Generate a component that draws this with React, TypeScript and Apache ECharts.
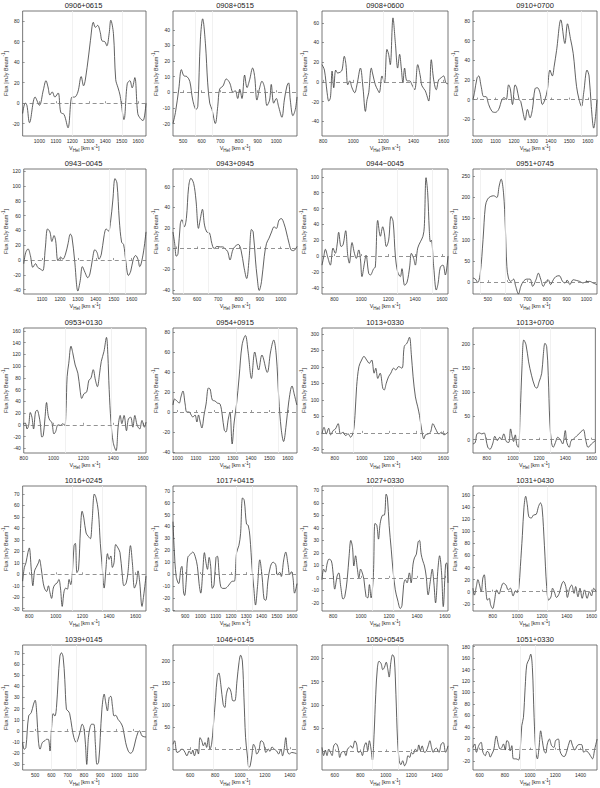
import React, { useEffect, useRef } from "react";
import * as echarts from "echarts";

type P = [number, number];

const titles = [
  "0906+0615", "0908+0515", "0908+0600", "0910+0700",
  "0943\u22120045", "0943+0945", "0944\u22120045", "0951+0745",
  "0953+0130", "0954+0915", "1013+0330", "1013+0700",
  "1016+0245", "1017+0415", "1027+0330", "1031+0430",
  "1039+0145", "1046+0145", "1050+0545", "1051+0330",
];

const s0906p0615: P[] = [[898,-10],[914,0],[924,-2],[940,-19],[974,6],[1000,-2],[1024,13],[1040,22],[1052,16],[1064,8],[1078,11],[1094,6],[1114,10],[1130,-9],[1150,-11],[1174,-24],[1198,6],[1214,6],[1234,11],[1254,26],[1268,17],[1290,35],[1310,61],[1328,79],[1340,74],[1354,76],[1370,69],[1380,61],[1398,60],[1410,56],[1424,68],[1434,81],[1450,68],[1464,23],[1478,15],[1490,8],[1514,-16],[1534,19],[1550,22],[1564,15],[1580,25],[1598,-10],[1614,-15],[1630,-17],[1648,0]];
const s0908p0515: P[] = [[446,-20],[459,-13],[477,2],[491,14.5],[504,10.6],[521,10],[536,7],[552,-5],[570,-11],[579,-9],[593,34],[605,47],[620,31],[632,6],[643,-7],[655,-11],[673,-20],[686,-9],[696,2],[714,4],[732,8.5],[750,6],[768,0],[780,1],[793,-4],[804,2],[816,-4],[830,11],[843,3],[857,8],[873,15.5],[884,10],[896,-5],[911,3],[923,7],[937,3],[950,-8.5],[964,-5],[973,5],[986,-7],[1000,-4],[1012,-9],[1030,-16],[1043,-5],[1057,4],[1066,6],[1075,-5],[1089,-15],[1102,-11],[1111,-3]];
const s0908p0600: P[] = [[793,17.5],[809,12],[827,-11],[838,-19.5],[849,-16],[860,11],[871,-6],[884,12],[897,9],[915,10],[926,12],[941,26],[952,17.5],[964,-3],[977,1],[992,-6],[1010,-11],[1025,-3],[1048,14],[1065,-6],[1081,-30],[1092,-18],[1103,-11],[1120,14],[1131,7],[1147,-3],[1162,-8],[1173,-11],[1191,6],[1207,-1],[1224,33],[1235,28],[1246,17.5],[1264,65],[1280,39],[1295,14],[1308,28],[1319,14],[1330,-1],[1341,14],[1357,1],[1375,1],[1390,-3],[1408,-8],[1428,17.5],[1445,6],[1456,-4],[1478,-9],[1501,-19.5],[1518,22.5],[1534,2],[1551,-8],[1567,2],[1582,4],[1600,6],[1615,-1],[1629,-2]];
const s0910p0700: P[] = [[978,0],[986,7],[1000,22],[1009,24],[1022,13.5],[1036,3],[1048,3],[1063,-5],[1081,-12],[1099,-13],[1117,-10],[1135,0],[1147,2],[1158,0],[1171,15],[1180,11],[1192,-5],[1206,15],[1215,12],[1228,0],[1237,-2],[1251,-15],[1260,-21],[1273,-10],[1287,-18.5],[1300,-10],[1314,11],[1327,12],[1341,7],[1354,-5],[1368,0],[1381,10],[1395,30],[1408,24],[1418,34],[1431,50],[1454,81],[1476,57],[1490,77],[1506,62],[1521,47],[1539,13.5],[1553,0],[1566,-7],[1578,7],[1596,30],[1607,24],[1619,-7],[1632,-29],[1650,0]];
const s0943m0045: P[] = [[998,-5],[1009,10],[1022,15],[1035,6],[1049,-10],[1064,-5],[1076,-10],[1089,-12],[1104,-14.5],[1118,15],[1131,42],[1144,38],[1155,25],[1167,33],[1176,26],[1189,-1],[1204,4],[1216,1],[1231,8],[1245,22],[1258,35],[1267,31],[1282,-1],[1300,-42],[1313,-28],[1325,-9],[1340,-17],[1355,-24],[1367,-19],[1380,-1],[1395,14],[1407,10],[1418,1],[1431,8],[1445,31],[1458,42],[1471,39],[1482,51],[1495,81],[1507,110],[1518,104],[1531,54],[1544,24],[1555,21],[1567,-1],[1582,-21],[1595,-15],[1609,1],[1622,6],[1635,1],[1645,-9],[1664,8],[1680,38]];
const s0943p0945: P[] = [[484,16],[492,5],[500,-7.5],[508,-5],[519,24],[527,28],[538,21],[548,29],[559,60],[570,68],[583,63],[594,47],[606,19.5],[614,27.6],[625,38],[635,22.7],[646,16],[659,15],[670,5],[681,0],[694,2],[710,1.6],[722,1.6],[733,0],[746,-3],[757,-11],[770,-1.6],[781,2],[797,4],[810,-1.6],[824,-18],[837,-29],[848,-11],[860,18.5],[868,16],[879,-11],[887,-27.6],[897,-40.6],[908,-32],[921,-8],[932,5],[944,10],[956,16],[968,21],[979,19.5],[992,27.6],[1003,29],[1016,24],[1027,16],[1040,5],[1051,-1.6],[1062,-2],[1078,2]];
const s0944m0045: P[] = [[708,-11.5],[721,-1],[733,8.5],[750,-1],[770,-11.5],[790,10],[807,3.4],[820,14],[832,30],[850,12],[864,14],[884,32],[899,1],[911,-9],[931,17],[949,3.4],[963,-3],[981,7.7],[993,-3],[1005,-26],[1023,-9],[1035,1],[1055,-22],[1067,-24],[1092,-16],[1104,-14],[1122,45],[1142,25],[1159,37],[1171,29],[1186,12],[1203,20],[1221,50],[1236,44],[1253,0],[1270,-20],[1290,-26],[1302,-16],[1322,-37],[1340,-33],[1359,-14],[1372,3.4],[1389,-3],[1401,-11.5],[1419,10],[1439,18],[1458,25],[1468,37],[1481,99],[1493,80],[1505,33],[1513,18],[1520,20],[1538,-14],[1557,-43],[1570,-35],[1587,-14],[1607,-11.5],[1624,-24],[1644,0]];
const s0951p0745: P[] = [[424,9.5],[436,7],[448,-1],[461,21],[475,100],[487,179],[498,195],[512,201],[529,203],[545,199],[557,226],[567,242],[579,210],[588,132],[596,37],[604,9.5],[616,1.6],[630,7],[641,-10],[655,-28],[667,-10],[680,1.6],[697,7],[714,7],[727,-10],[744,5.5],[756,21],[768,7],[781,-10],[795,1.6],[806,5.5],[818,-6],[832,5.5],[845,13],[862,15],[879,1.6],[891,-2],[904,4],[916,-6],[933,5.5],[949,4],[966,1.6],[983,-2],[1000,1],[1017,1.6],[1034,-2],[1054,-6]];
const s0953p0130: P[] = [[800,2],[811,3],[822,-7],[833,-1],[844,21],[855,13],[866,-7],[879,22],[890,25],[901,17],[911,2],[922,-21],[931,-18],[942,10],[953,38],[964,16],[975,7.5],[988,4.6],[1003,-15.5],[1014,-11.5],[1030,0],[1047,-1],[1062,2],[1075,-1],[1084,27.6],[1091,82],[1102,105],[1117,134],[1130,121],[1145,102],[1163,88],[1178,59],[1189,45],[1204,53],[1222,56],[1237,76],[1250,79],[1266,94],[1281,76],[1294,65],[1309,88],[1320,108],[1338,125],[1355,149],[1364,120],[1373,60],[1385,5],[1400,-30],[1419,-44],[1434,-1],[1447,16],[1458,2],[1473,16],[1489,-10],[1502,10],[1517,13],[1532,-4],[1545,16],[1561,-1],[1578,-7],[1593,7.5],[1609,-4],[1620,4.6]];
const s0954p0915: P[] = [[975,7],[984,13],[996,11],[1009,9],[1018,15],[1029,21],[1041,8],[1050,0],[1063,0],[1074,-3],[1083,-5],[1095,-3],[1105,-10],[1114,-3],[1123,-10],[1132,-16],[1144,-3],[1155,8],[1168,24],[1177,23],[1189,12],[1204,11],[1216,9],[1231,8],[1243,-3],[1254,-18],[1263,-20],[1276,-7],[1285,0],[1297,-32],[1308,-10],[1321,8],[1335,35],[1351,67],[1369,76.5],[1384,60],[1402,33.5],[1420,60],[1441,42],[1459,57],[1488,39.6],[1506,60],[1523,72],[1537,57],[1551,13],[1564,-17],[1577,-29.5],[1591,-13],[1605,10],[1623,26],[1636,17],[1649,7]];
const s1013p0330: P[] = [[706,-3],[721,17],[738,-3],[755,14],[770,-6],[788,7],[805,12],[825,28],[842,-3],[862,2],[879,-8],[899,-3],[916,-13],[936,2],[949,53],[961,140],[978,201],[998,221],[1015,232],[1035,221],[1055,211],[1072,221],[1090,181],[1102,196],[1117,165],[1134,181],[1154,135],[1164,130],[1179,150],[1196,170],[1213,181],[1233,196],[1250,191],[1270,201],[1295,196],[1312,262],[1332,272],[1350,290],[1364,237],[1377,170],[1394,109],[1411,79],[1424,53],[1439,12],[1456,-18],[1468,-6],[1488,-3],[1505,2],[1523,28],[1543,12],[1567,-3],[1587,2],[1604,-6],[1634,2]];
const s1013p0700: P[] = [[695,-9],[712,-6],[725,12],[745,14],[762,12],[780,14],[795,0],[808,-16],[825,-20],[845,-9],[862,7],[880,-2],[900,5],[912,0],[930,12],[950,-4],[968,-6],[982,22.5],[995,5],[1005,-4],[1018,10],[1030,-11],[1042,-16],[1055,51],[1070,156],[1083,209],[1100,199],[1120,163],[1142,135],[1168,111],[1182,108],[1200,121],[1220,139],[1232,177],[1245,202],[1258,195],[1270,135],[1282,37],[1295,-6],[1308,-16],[1325,-6],[1342,5],[1362,0],[1380,-9],[1400,19],[1412,-6],[1430,-16],[1445,-2],[1462,1],[1488,8],[1512,14],[1538,21],[1555,1],[1575,-16],[1600,-9],[1630,-2]];
const s1016p0245: P[] = [[750,-6],[763,6],[775,10],[790,19],[800,23],[815,4.5],[827,-10],[840,3],[852,6],[869,10],[877,13],[889,6],[901,-4.5],[914,-12],[931,-15],[944,-10],[956,-16],[968,-21],[981,-12],[993,-9],[1010,-7.5],[1023,-4.5],[1035,-12],[1048,-28],[1062,-15],[1075,-12],[1087,-13],[1100,-4.5],[1112,-9],[1124,0],[1137,25],[1147,27],[1159,1.5],[1171,4.5],[1186,40],[1198,55],[1211,49],[1228,36],[1245,33],[1260,31],[1273,46],[1290,70],[1302,67],[1320,55],[1335,27],[1347,10],[1364,-12],[1377,4.5],[1389,18],[1401,13],[1414,16],[1426,6],[1438,10],[1451,26],[1468,23],[1483,19],[1500,0],[1513,-10],[1530,-7.5],[1543,1.5],[1562,25],[1577,9],[1592,-12],[1607,-7.5],[1619,3],[1632,-7.5],[1649,-28],[1661,-19],[1679,-1.5]];
const s1017p0415: P[] = [[820,44],[828,21],[841,-2],[857,-8],[872,5],[878,6.5],[889,-15],[896,-18],[907,-5],[917,14],[933,16.5],[950,18.5],[965,15],[980,6.5],[991,-8],[1002,-16],[1015,2],[1026,18],[1037,9],[1046,4],[1057,14],[1067,6.5],[1078,-12],[1089,-9],[1102,14],[1111,15],[1122,1],[1133,-10.5],[1146,-12],[1161,-12],[1178,-10.5],[1193,-8],[1209,-6],[1222,-6],[1237,18],[1252,24],[1263,34],[1276,64],[1287,62],[1302,42],[1313,41],[1324,32],[1339,4],[1350,-12],[1361,-26],[1374,-10.5],[1389,12],[1404,-2],[1417,-21],[1428,-22],[1443,-5],[1459,6.5],[1476,10],[1493,8],[1504,-0.5],[1520,1.5],[1530,-2],[1546,12],[1559,18.5],[1574,8],[1585,-0.5],[1596,2],[1607,-3.5],[1617,-16],[1633,-8]];
const s1027p0330: P[] = [[721,-1.4],[733,7],[745,4.6],[759,12],[771,15],[788,13.6],[800,4],[812,-9],[829,1.4],[841,4],[855,-7],[872,-17],[884,-15],[901,-1.4],[915,17.7],[927,30],[939,24.5],[949,9.5],[961,17.7],[973,8],[985,0],[997,7],[1009,4],[1021,-1.4],[1036,-15],[1048,-16],[1060,-5.4],[1072,-16],[1088,1.4],[1100,43.6],[1113,42],[1125,31],[1137,43.6],[1153,50],[1168,50.4],[1180,67],[1189,64],[1201,42],[1216,23],[1228,7],[1245,-9.5],[1262,-17.7],[1281,-24.5],[1293,-22],[1305,-5.4],[1317,-1.4],[1329,-4],[1346,4],[1358,-4],[1372,11],[1382,16],[1396,19],[1408,28.6],[1418,30],[1430,19],[1442,13.6],[1454,9.5],[1466,1.4],[1480,-13.6],[1497,-1.4],[1509,7],[1521,-4],[1533,-20],[1550,7],[1562,17.7],[1576,4],[1588,-23],[1605,11],[1613,12],[1622,-4]];
const s1031p0430: P[] = [[640,5.7],[651,-5.7],[667,8.5],[680,20],[693,11],[707,0],[720,22.6],[731,28],[744,3],[757,-14],[771,-11],[784,-22.6],[800,-28],[813,-17],[832,3],[851,-4],[867,5.7],[885,14],[907,11],[925,3],[944,5.7],[965,-7],[984,1.7],[997,-1.7],[1011,5.7],[1024,42],[1040,93],[1053,139],[1067,158],[1080,144],[1093,124],[1112,122],[1131,127],[1152,128],[1171,141],[1187,147],[1200,139],[1219,76],[1237,8.5],[1253,-14],[1272,-8.5],[1285,5.7],[1299,0],[1317,-9.6],[1339,-2.8],[1357,11],[1373,17],[1392,8.5],[1405,-9.6],[1424,5.7],[1440,11],[1459,-2.8],[1472,8.5],[1491,-8.5],[1507,5.7],[1525,-11],[1544,3],[1565,-11],[1584,0],[1600,-7],[1619,5.7],[1637,0]];
const s1039p0145: P[] = [[423,-10.4],[433,-16.4],[443,-15],[460,13.4],[476,16.4],[490,24],[500,27.5],[510,15],[520,-9],[530,-16.4],[544,-10.4],[557,-9],[571,-7.5],[581,-7.5],[591,-18],[601,3],[611,15.5],[621,13.4],[631,21],[641,45],[652,67],[662,70],[672,66],[682,46],[692,19.4],[702,18],[712,15.5],[726,3],[738,-6],[753,-10.4],[763,-7.5],[777,0],[789,6],[799,3],[809,-12],[817,-30],[827,-6],[837,3],[847,6],[860,6],[870,-12],[880,-30],[890,-28],[900,-6],[910,19.4],[924,33],[934,25],[944,18],[955,30],[965,31],[975,22],[985,13.4],[995,14],[1009,10.4],[1025,7.5],[1039,3],[1056,-10.4],[1072,-18],[1086,-20],[1100,-18],[1116,-9],[1131,-1.5],[1142,0],[1157,-4.5],[1181,-5.4]];
const s1046p0145: P[] = [[462,11],[475,19],[494,-7.5],[513,-5],[534,0],[552,-4],[574,-15],[592,-4],[608,-11],[621,-2],[634,-15],[653,0],[666,-11],[679,26],[693,19],[706,7.5],[719,15],[732,4],[746,26],[759,0],[772,11],[785,49],[804,116],[817,161],[830,172],[846,146],[865,101],[878,94],[891,124],[910,139],[926,131],[944,109],[958,109],[976,154],[992,195],[1005,212],[1019,199],[1032,116],[1045,26],[1058,-11],[1072,-41],[1082,-37.5],[1095,-15],[1109,11],[1122,4],[1135,-11],[1151,-4],[1170,19],[1188,15],[1209,-7.5],[1228,0],[1241,-5],[1257,5],[1275,0],[1294,-4],[1310,-11],[1328,0],[1342,-15],[1355,0],[1368,26],[1381,-4],[1395,-11],[1416,-7.5],[1453,-10]];
const s1050p0545: P[] = [[500,8.6],[513,-9],[526,3],[539,-9],[553,5],[566,-2],[579,-9],[592,12],[608,17],[626,8.6],[639,-13],[653,-2],[671,0],[687,-9],[700,5],[713,8.6],[726,12],[739,7],[758,23],[771,16],[784,-2],[803,0],[816,-9],[832,12],[845,19],[858,1.4],[871,23],[884,5],[895,-18.5],[908,37],[921,123],[934,180],[947,194],[963,189],[976,176],[989,181],[1003,192],[1016,176],[1026,160],[1039,191],[1053,208],[1066,201],[1079,123],[1092,23],[1105,-20],[1118,-28.6],[1132,-20],[1147,-31],[1161,-23.6],[1174,-9],[1187,-13],[1200,-2],[1213,-6],[1232,5],[1245,0],[1258,14],[1271,1.4],[1284,12],[1303,-2],[1316,0],[1332,12],[1345,23],[1358,8.6],[1371,-2],[1384,5],[1397,7],[1416,-2],[1434,16],[1450,19],[1468,-2],[1487,12]];
const s1051p0330: P[] = [[547,4],[561,10],[574,-4.6],[592,7],[611,13],[626,-4.6],[645,-10.5],[658,-3],[671,-4.6],[684,-13],[697,-7.5],[711,-0.6],[732,24],[750,7],[763,1],[776,4],[789,10],[803,-0.6],[816,16],[829,13],[842,-2],[855,7],[868,-16],[889,-16],[908,-18],[921,-2],[934,42],[947,56],[961,109],[974,149],[992,158],[1005,167],[1018,144],[1032,56],[1045,-2],[1058,-16],[1071,4],[1084,33],[1097,16],[1111,-2],[1124,-6],[1137,10],[1153,18.6],[1171,7],[1189,4],[1203,16],[1224,18.6],[1237,-2],[1255,-10.5],[1271,-12],[1289,-4.6],[1303,7],[1321,17],[1337,7],[1355,-0.6],[1374,7],[1389,9],[1408,9],[1426,-4.6],[1442,-2],[1461,-4.6],[1479,-10.5],[1495,-16],[1513,1],[1532,18.6]];

const spectra: P[][] = [
  s0906p0615, s0908p0515, s0908p0600, s0910p0700,
  s0943m0045, s0943p0945, s0944m0045, s0951p0745,
  s0953p0130, s0954p0915, s1013p0330, s1013p0700,
  s1016p0245, s1017p0415, s1027p0330, s1031p0430,
  s1039p0145, s1046p0145, s1050p0545, s1051p0330,
];

// velocity axis extents [min, max]
const xRanges: P[] = [
  [898, 1648], [446, 1111], [793, 1629], [978, 1650],
  [998, 1680], [484, 1078], [708, 1644], [424, 1054],
  [800, 1620], [975, 1650], [706, 1634], [695, 1630],
  [750, 1679], [820, 1633], [721, 1622], [640, 1637],
  [423, 1181], [462, 1458], [500, 1487], [547, 1531],
];
// flux axis extents [min, max]
const yRanges: P[] = [
  [-32, 90], [-28, 52], [-55, 72], [-37, 90],
  [-46, 123], [-44, 77], [-48, 110], [-28, 266],
  [-48, 165], [-41, 84], [-61, 318], [-28, 234],
  [-32, 77], [-31, 74], [-26.5, 73.5], [-32, 175],
  [-35, 77], [-47, 235], [-40, 229], [-35.5, 183],
];

const xt100a = [1000, 1100, 1200, 1300, 1400, 1500, 1600];
const xt500 = [500, 600, 700, 800, 900, 1000];
const xt800 = [800, 1000, 1200, 1400, 1600];
const xTicks: number[][] = [
  xt100a, xt500, xt800, xt100a,
  [1100, 1200, 1300, 1400, 1500, 1600], xt500, xt800, xt500,
  xt800, xt100a, xt800, xt800,
  xt800, [900, 1000, 1100, 1200, 1300, 1400, 1500, 1600], xt800, xt800,
  [500, 600, 700, 800, 900, 1000, 1100], [600, 800, 1000, 1200, 1400], [600, 800, 1000, 1200, 1400], [600, 800, 1000, 1200, 1400],
];
const yTicks: number[][] = [
  [-20, 0, 20, 40, 60, 80], [-20, -10, 0, 10, 20, 30, 40], [-40, -20, 0, 20, 40, 60], [-20, 0, 20, 40, 60, 80],
  [-40, -20, 0, 20, 40, 60, 80, 100, 120], [-40, -20, 0, 20, 40, 60], [-40, -20, 0, 20, 40, 60, 80, 100], [0, 50, 100, 150, 200, 250],
  [-40, -20, 0, 20, 40, 60, 80, 100, 120, 140, 160], [-40, -20, 0, 20, 40, 60, 80], [-50, 0, 50, 100, 150, 200, 250, 300], [0, 50, 100, 150, 200],
  [-30, -20, -10, 0, 10, 20, 30, 40, 50, 60, 70], [-30, -20, -10, 0, 10, 20, 30, 40, 50, 60, 70], [-20, -10, 0, 10, 20, 30, 40, 50, 60, 70], [-20, 0, 20, 40, 60, 80, 100, 120, 140, 160],
  [-30, -20, -10, 0, 10, 20, 30, 40, 50, 60, 70], [0, 50, 100, 150, 200], [0, 50, 100, 150, 200], [-20, 0, 20, 40, 60, 80, 100, 120, 140, 160, 180],
];
// faint velocity-window markers
const windows: P[] = [
  [1198, 1504], [565, 655], [1200, 1400], [1381, 1566],
  [1476, 1567], [532, 654], [1265, 1525], [461, 588],
  [1080, 1386], [1320, 1546], [936, 1431], [1050, 1288],
  [1124, 1352], [1237, 1339], [1081, 1233], [1005, 1245],
  [597, 752], [785, 1064], [897, 1100], [921, 1040],
];

const COL_LEFT = [21, 173, 322, 473];
const COL_W = [125, 124, 126, 124];
const ROW_TOP = [11, 169, 328, 486, 645];
const PANEL_H = 125;
const FONT = "Liberation Sans, Arial, Helvetica, sans-serif";
const TXT = "#2a2a2a";

function buildOption() {
  const grid: any[] = [];
  const xAxis: any[] = [];
  const yAxis: any[] = [];
  const series: any[] = [];
  const graphic: any[] = [];
  const nameRich = {
    a: { fontSize: 5.5, lineHeight: 9, color: TXT, fontFamily: FONT },
    s: { fontSize: 4.5, lineHeight: 4.5, verticalAlign: "bottom", color: TXT, fontFamily: FONT },
    p: { fontSize: 4.5, lineHeight: 4.5, verticalAlign: "top", color: TXT, fontFamily: FONT },
  };
  const fmt = (v: number) => String(v);
  titles.forEach((t, i) => {
    const r = Math.floor(i / 4);
    const c = i % 4;
    const left = COL_LEFT[c];
    const top = ROW_TOP[r];
    const w = COL_W[c];
    grid.push({ left, top, width: w, height: PANEL_H, show: true, borderColor: "#555", borderWidth: 0.8, containLabel: false });
    xAxis.push({
      type: "value", gridIndex: i, min: xRanges[i][0], max: xRanges[i][1],
      axisLine: { show: false }, splitLine: { show: false },
      axisTick: { show: true, inside: true, length: 2, customValues: xTicks[i], lineStyle: { color: "#555", width: 0.6 } },
      axisLabel: { customValues: xTicks[i], formatter: fmt, fontSize: 5, color: TXT, margin: 2, fontFamily: FONT },
      name: "{a|V}{s|Hel}{a| [km s}{p|-1}{a|]}",
      nameLocation: "middle", nameGap: 7,
      nameTextStyle: { rich: nameRich, fontSize: 5.5, color: TXT },
    });
    yAxis.push({
      type: "value", gridIndex: i, min: yRanges[i][0], max: yRanges[i][1],
      axisLine: { show: false }, splitLine: { show: false },
      axisTick: { show: true, inside: true, length: 2, customValues: yTicks[i], lineStyle: { color: "#555", width: 0.6 } },
      axisLabel: { customValues: yTicks[i], formatter: fmt, fontSize: 5, color: TXT, margin: 3, fontFamily: FONT },
      name: "{a|Flux [mJy Beam}{p|-1}{a|]}",
      nameLocation: "middle", nameRotate: 90, nameGap: 11,
      nameTextStyle: { rich: nameRich, fontSize: 5.5, color: TXT },
    });
    series.push({
      type: "line", xAxisIndex: i, yAxisIndex: i, data: spectra[i],
      smooth: 0.35, symbol: "none", showSymbol: false,
      lineStyle: { color: "#3a3a3a", width: 0.8 },
      markLine: {
        silent: true, symbol: ["none", "none"], label: { show: false },
        data: [
          { xAxis: windows[i][0], lineStyle: { color: "#ededed", width: 0.8, type: "solid" } },
          { xAxis: windows[i][1], lineStyle: { color: "#ededed", width: 0.8, type: "solid" } },
          { yAxis: 0, lineStyle: { color: "#777", width: 0.8, type: [4, 3] } },
        ],
      },
      z: 3,
    });
    graphic.push({
      type: "text", x: left + w / 2, y: top - 6,
      style: { text: t, fontSize: 7.5, fill: "#222", align: "center", verticalAlign: "middle", fontFamily: FONT },
    });
  });
  return {
    animation: false,
    backgroundColor: "#fff",
    textStyle: { fontFamily: FONT },
    grid, xAxis, yAxis, series, graphic,
  };
}

export default function App() {
  const ref = useRef<HTMLDivElement>(null);
  useEffect(() => {
    if (!ref.current) return;
    const chart = echarts.init(ref.current, undefined, { renderer: "svg" });
    chart.setOption(buildOption() as any);
    return () => chart.dispose();
  }, []);
  return <div ref={ref} style={{ position: "absolute", left: 0, top: 0, width: 600, height: 788, background: "#fff" }} />;
}
